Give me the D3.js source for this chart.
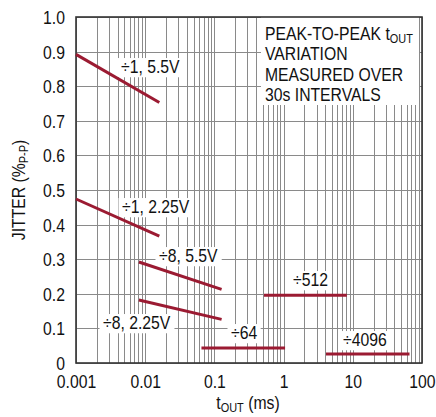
<!DOCTYPE html>
<html><head><meta charset="utf-8">
<script src="https://cdn.jsdelivr.net/npm/d3@7"></script>
<style>
html,body{margin:0;padding:0;background:#fff;}
svg text{font-family:"Liberation Sans",Arial,Helvetica,sans-serif;fill:#111;}
</style></head>
<body>
<svg id="c" width="436" height="417"></svg>
<script>
// ---- data ----
const xTicks = [0.001, 0.01, 0.1, 1, 10, 100];
const xTickLabels = ["0.001", "0.01", "0.1", "1", "10", "100"];
const yTicks = [0, 0.1, 0.2, 0.3, 0.4, 0.5, 0.6, 0.7, 0.8, 0.9, 1.0];
const yTickLabels = ["0", "0.1", "0.2", "0.3", "0.4", "0.5", "0.6", "0.7", "0.8", "0.9", "1.0"];

const seriesNames = ["÷1, 5.5V", "÷1, 2.25V", "÷8, 5.5V", "÷8, 2.25V", "÷64", "÷512", "÷4096"];
const seriesX = [
  [0.001, 0.016],
  [0.001, 0.016],
  [0.0081, 0.127],
  [0.0081, 0.127],
  [0.065, 1.05],
  [0.52, 8.2],
  [4.1, 66]
];
const seriesY = [
  [0.892, 0.753],
  [0.474, 0.367],
  [0.292, 0.213],
  [0.182, 0.126],
  [0.043, 0.043],
  [0.196, 0.196],
  [0.026, 0.026]
];
const noteLines = ["PEAK-TO-PEAK t", "VARIATION", "MEASURED OVER", "30s INTERVALS"];

// ---- layout ----
const mL = 76, mR = 422, mT = 17, mB = 363;
const labelPos = [[121,73],[122,213],[159,262],[103,329],[231,339],[293,286],[343,346]];
const lineColor = "#9b1b32";
const FS = 18, SUB = 12.5, SX = 0.875;

const svg = d3.select("#c");
const x = d3.scaleLog().domain([0.001, 100]).range([mL, mR]);
const y = d3.scaleLinear().domain([0, 1]).range([mB, mT]);

function addText(parent, px, py, anchor) {
  return parent.append("g").attr("transform", `translate(${px},${py}) scale(${SX},1)`)
    .append("text").attr("x", 0).attr("y", 0).attr("font-size", FS).attr("text-anchor", anchor || "start");
}

// minor vertical grid
const minor = [];
for (let d = -3; d < 2; d++) for (let m = 1; m <= 9; m++) minor.push(m * Math.pow(10, d));
minor.push(100);
const grid = svg.append("g");
grid.selectAll("line.v").data(minor).enter().append("line")
  .attr("x1", d => Math.round(x(d)) + 0.5).attr("x2", d => Math.round(x(d)) + 0.5)
  .attr("y1", mT).attr("y2", mB)
  .attr("stroke", "#8a8a8a").attr("stroke-width", 1);
grid.selectAll("line.h").data(yTicks).enter().append("line")
  .attr("y1", d => Math.round(y(d)) + 0.5).attr("y2", d => Math.round(y(d)) + 0.5)
  .attr("x1", mL).attr("x2", mR)
  .attr("stroke", "#8a8a8a").attr("stroke-width", 1);

// annotation box
svg.append("rect").attr("x", 261).attr("y", mT).attr("width", 158).attr("height", 88).attr("fill", "#fff");
const note = svg.append("g");
noteLines.forEach((t, i) => {
  const tx = addText(note, 265, 40 + i * 20.4).text(t);
  if (i === 0) tx.append("tspan").attr("font-size", SUB).attr("dy", 3).text("OUT");
});

// frame
svg.append("rect").attr("x", mL).attr("y", mT).attr("width", mR - mL).attr("height", mB - mT)
  .attr("fill", "none").attr("stroke", "#333").attr("stroke-width", 1.6);

// axes tick labels
const xAxis = d3.axisBottom(x).tickValues(xTicks).tickFormat((d, i) => xTickLabels[i]).tickSize(0).tickPadding(0);
const gx = svg.append("g").attr("transform", `translate(0,${mB})`).call(xAxis);
gx.select(".domain").remove();
gx.selectAll("text").attr("font-size", FS).attr("dy", null).attr("y", 25).attr("fill", "#111")
  .attr("transform", `scale(${SX},1)`)
  .attr("font-family", '"Liberation Sans",Arial,sans-serif');

const yAxis = d3.axisLeft(y).tickValues(yTicks).tickFormat((d, i) => yTickLabels[i]).tickSize(0).tickPadding(11);
const gy = svg.append("g").attr("transform", `translate(${mL},0)`).call(yAxis);
gy.select(".domain").remove();
gy.selectAll("text").attr("font-size", FS).attr("fill", "#111").attr("dy", "0.36em")
  .attr("x", -11 / SX).attr("transform", `scale(${SX},1)`)
  .attr("font-family", '"Liberation Sans",Arial,sans-serif');

// series labels with white backgrounds
const labG = svg.append("g");
seriesNames.forEach((n, i) => {
  const t = addText(labG, labelPos[i][0], labelPos[i][1]).text(n);
  const g = d3.select(t.node().parentNode);
  const bb = t.node().getBBox();
  g.insert("rect", "text").attr("fill", "#fff")
    .attr("x", bb.x - 4).attr("y", bb.y + 1).attr("width", bb.width + 8).attr("height", bb.height - 1);
});

// series lines
const line = d3.line().x(d => x(d[0])).y(d => y(d[1]));
seriesNames.forEach((n, i) => {
  const pts = seriesX[i].map((v, j) => [v, seriesY[i][j]]);
  svg.append("path").attr("d", line(pts)).attr("fill", "none")
    .attr("stroke", lineColor).attr("stroke-width", 3);
});

// axis titles
const xt = addText(svg, 248, 409, "middle");
xt.append("tspan").text("t");
xt.append("tspan").attr("font-size", SUB).attr("dy", 3).text("OUT");
xt.append("tspan").attr("dy", -3).text(" (ms)");

const ytG = svg.append("g").attr("transform", `translate(25,${(mT + mB) / 2}) rotate(-90) scale(${SX},1)`);
const yt = ytG.append("text").attr("text-anchor", "middle").attr("font-size", FS);
yt.append("tspan").text("JITTER (%");
yt.append("tspan").attr("font-size", SUB).attr("dy", 3).text("P-P");
yt.append("tspan").attr("dy", -3).text(")");
</script>
</body></html>
